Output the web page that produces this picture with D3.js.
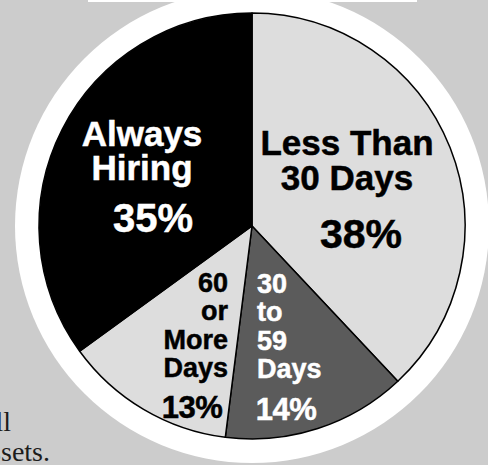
<!DOCTYPE html>
<html>
<head>
<meta charset="utf-8">
<script src="https://cdn.jsdelivr.net/npm/d3@7"></script>
<style>
  html, body { margin: 0; padding: 0; background: #cccccc; }
  svg { display: block; }
</style>
</head>
<body>
<svg id="chart" width="488" height="465"></svg>
<script>
// ---- data ----
const categories = ["Less Than 30 Days", "30 to 59 Days", "60 or More Days", "Always Hiring"];
const values = [38, 14, 13, 35];
const labelLines = [["Less Than", "30 Days"], ["30", "to", "59", "Days"], ["60", "or", "More", "Days"], ["Always", "Hiring"]];
const pctLabels = ["38%", "14%", "13%", "35%"];

// ---- styles / layout ----
const fills = ["#dddddd", "#5b5b5b", "#dddddd", "#000000"];
const textColors = ["#000", "#fff", "#000", "#fff"];
const cx = 252, cy = 226, R = 213, ringR = 237;
// label layout offsets (relative to pie centre)
const layout = [
  { anchor: "middle", x: 95, y0: -71, lh: 35, fs: 35, px: 109, py: 22, pfs: 41, ls: 0 },
  { anchor: "start", x: 5, y0: 67, lh: 28.4, fs: 27, px: 34, py: 194, pfs: 31, ls: -0.5 },
  { anchor: "end", x: -24, y0: 66, lh: 28.4, fs: 27, px: -60, py: 192, pfs: 31, ls: -0.5 },
  { anchor: "middle", x: -110, y0: -80, lh: 33.5, fs: 35, px: -99, py: 6, pfs: 40, ls: 0 }
];

const svg = d3.select("#chart");
svg.append("rect").attr("width", 488).attr("height", 465).attr("fill", "#cccccc");

// serif text fragments at lower left
svg.append("text").attr("x", 11).attr("y", 431).attr("text-anchor", "end")
  .attr("font-family", "Liberation Serif, serif").attr("font-size", 28).attr("fill", "#1c1c1c").text("all");
svg.append("text").attr("x", 50).attr("y", 461).attr("text-anchor", "end")
  .attr("font-family", "Liberation Serif, serif").attr("font-size", 28).attr("fill", "#1c1c1c").text("assets.");

// white title box at top (cut off)
svg.append("rect").attr("x", 88).attr("y", -10).attr("width", 329).attr("height", 12).attr("fill", "#fff");

const g = svg.append("g").attr("transform", `translate(${cx},${cy})`);

// white ring
g.append("circle").attr("r", ringR).attr("fill", "#fff");

const pie = d3.pie().sort(null).value(d => d)(values);
const arc = d3.arc().innerRadius(0).outerRadius(R);

g.selectAll("path.slice").data(pie).join("path")
  .attr("class", "slice")
  .attr("d", arc)
  .attr("fill", (d, i) => fills[i])
  .attr("stroke", "#000")
  .attr("stroke-width", 1.5)
  .attr("stroke-linejoin", "round");

const font = "'Liberation Sans', Arial, Helvetica, sans-serif";
pie.forEach((d, i) => {
  const L = layout[i];
  const t = g.append("text")
    .attr("font-family", font).attr("font-weight", "bold")
    .attr("font-size", L.fs).attr("fill", textColors[i])
    .attr("stroke", textColors[i]).attr("stroke-width", 0.5)
    .attr("text-anchor", L.anchor);
  labelLines[i].forEach((line, j) => {
    t.append("tspan").attr("x", L.x).attr("y", L.y0 + j * L.lh).text(line);
  });
  g.append("text")
    .attr("font-family", font).attr("font-weight", "bold")
    .attr("font-size", L.pfs).attr("fill", textColors[i])
    .attr("stroke", textColors[i]).attr("stroke-width", 0.5)
    .attr("text-anchor", "middle")
    .attr("x", L.px).attr("y", L.py)
    .attr("letter-spacing", L.ls)
    .text(pctLabels[i]);
});
</script>
</body>
</html>
